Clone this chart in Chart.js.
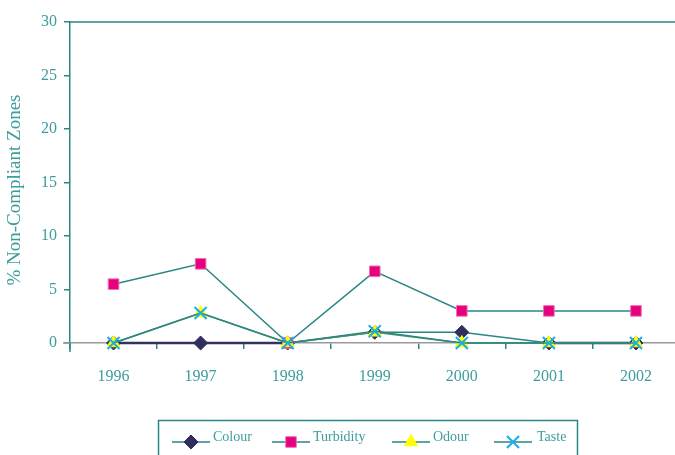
<!DOCTYPE html>
<html>
<head>
<meta charset="utf-8">
<script src="https://cdn.jsdelivr.net/npm/chart.js@4/dist/chart.umd.min.js"></script>
<style>
html,body{margin:0;padding:0;background:#fff;overflow:hidden;}
#wrap{width:690px;height:455px;}
</style>
</head>
<body>
<div id="wrap"><canvas id="c" width="690" height="455"></canvas></div>
<script>
const years = ['1996','1997','1998','1999','2000','2001','2002'];
const colour = [0, 0, 0, 1.0, 1.0, 0, 0];
const turbidity = [5.5, 7.4, 0, 6.7, 3.0, 3.0, 3.0];
const odour = [0, 2.8, 0, 1.0, 0, 0, 0];
const taste = [0, 2.8, 0, 1.1, 0, 0, 0];
const yTicks = [0, 5, 10, 15, 20, 25, 30];
const yTitle = '% Non-Compliant Zones';

const TEAL = '#2a8686';
const TEXT = '#3d9c9c';
const SERIF = "'Liberation Serif', 'DejaVu Serif', serif";

const datasets = [
  {label:'Colour', data:colour, borderColor:TEAL, borderWidth:1.5, clip:false,
   segment:{borderColor: ctx => (ctx.p0.parsed.y===0 && ctx.p1.parsed.y===0) ? '#33335f' : TEAL,
            borderWidth: ctx => (ctx.p0.parsed.y===0 && ctx.p1.parsed.y===0) ? 2.5 : 1.5},
   pointStyle:'rectRot', pointRadius:7, pointBackgroundColor:'#2f2f5f', pointBorderColor:'#2f2f5f', pointBorderWidth:1, order:4},
  {label:'Turbidity', data:turbidity, borderColor:TEAL, borderWidth:1.5, clip:false,
   pointStyle:'rect', pointRadius:7.5, pointBackgroundColor:'#e6007e', pointBorderColor:'#f070b0', pointBorderWidth:1, order:3},
  {label:'Odour', data:odour, borderColor:'#4f9a5a', borderWidth:1.5, clip:false,
   pointStyle:'triangle', pointRadius:7.5, pointBackgroundColor:'#ffff00', pointBorderColor:'#ffff00', pointBorderWidth:1, order:2},
  {label:'Taste', data:taste, borderColor:TEAL, borderWidth:1.5, clip:false,
   pointStyle:'crossRot', pointRadius:8.5, pointBackgroundColor:'#1aaee8', pointBorderColor:'#1aaee8', pointBorderWidth:2, order:1}
];

const framePlugin = {
  id:'frame',
  beforeDatasetsDraw(chart){
    const {ctx, chartArea} = chart;
    ctx.save();
    // small extensions of the axes past their crossing
    ctx.strokeStyle = TEAL;
    ctx.lineWidth = 1.5;
    ctx.beginPath();
    ctx.moveTo(chartArea.left, chartArea.bottom);
    ctx.lineTo(chartArea.left, chartArea.bottom + 9);
    ctx.stroke();
    ctx.strokeStyle = '#9a9a9a';
    ctx.beginPath();
    ctx.moveTo(chartArea.left - 7, chartArea.bottom);
    ctx.lineTo(chartArea.left, chartArea.bottom);
    ctx.stroke();
    ctx.restore();
  },
  afterDraw(chart){
    const {ctx, chartArea} = chart;
    ctx.save();
    ctx.strokeStyle = TEAL;
    ctx.lineWidth = 1.5;
    ctx.beginPath();
    ctx.moveTo(chartArea.left, chartArea.top);
    ctx.lineTo(chartArea.right, chartArea.top);
    ctx.stroke();

    // y-axis title
    ctx.save();
    ctx.translate(15, 190);
    ctx.rotate(-Math.PI/2);
    ctx.fillStyle = TEXT;
    ctx.font = "19px " + SERIF;
    ctx.textAlign = 'center';
    ctx.textBaseline = 'middle';
    ctx.fillText(yTitle, 0, 0);
    ctx.restore();

    // legend box
    ctx.strokeStyle = TEAL;
    ctx.lineWidth = 1.5;
    ctx.strokeRect(158.5, 420.5, 419, 60);
    const items = [
      {x0:172, tx:213},
      {x0:272, tx:313},
      {x0:392, tx:433},
      {x0:494, tx:537}
    ];
    const ly = 442;
    items.forEach((it, i) => {
      const ds = chart.data.datasets[i];
      ctx.strokeStyle = TEAL;
      ctx.lineWidth = 1.5;
      ctx.beginPath();
      ctx.moveTo(it.x0, ly);
      ctx.lineTo(it.x0 + 38, ly);
      ctx.stroke();
      ctx.fillStyle = ds.pointBackgroundColor;
      ctx.strokeStyle = ds.pointBorderColor;
      ctx.lineWidth = ds.pointBorderWidth;
      Chart.helpers.drawPoint(ctx, {
        pointStyle: ds.pointStyle, radius: ds.pointRadius, rotation:0,
        borderWidth: ds.pointBorderWidth
      }, it.x0 + 19, ly);
      ctx.fillStyle = TEXT;
      ctx.font = "14px " + SERIF;
      ctx.textBaseline = 'middle';
      ctx.textAlign = 'left';
      ctx.fillText(ds.label, it.tx, 437);
    });
    ctx.restore();
  }
};

new Chart(document.getElementById('c'), {
  type:'line',
  data:{labels:years, datasets:datasets},
  options:{
    responsive:false,
    animation:false,
    layout:{padding:{top:22, right:10, bottom:62, left:0}},
    plugins:{legend:{display:false}, tooltip:{enabled:false}},
    elements:{line:{tension:0}},
    scales:{
      x:{
        type:'category', offset:true,
        grid:{display:true, drawOnChartArea:false, drawTicks:true, tickLength:6, color:TEAL, lineWidth:1.5, offset:true},
        border:{color:'#9a9a9a', width:1.5},
        ticks:{color:TEXT, font:{family:SERIF, size:16}, padding:18},
        afterFit(s){ s.height = 50; }
      },
      y:{
        min:0, max:30,
        afterBuildTicks(s){ s.ticks = yTicks.map(v => ({value:v})); },
        grid:{display:true, drawOnChartArea:false, drawTicks:true, tickLength:6, color:TEAL, lineWidth:1.5},
        border:{color:TEAL, width:1.5},
        ticks:{color:TEXT, font:{family:SERIF, size:16}, padding:7},
        title:{display:false},
        afterFit(s){ s.width = 70; }
      }
    }
  },
  plugins:[framePlugin]
});
</script>
</body>
</html>
